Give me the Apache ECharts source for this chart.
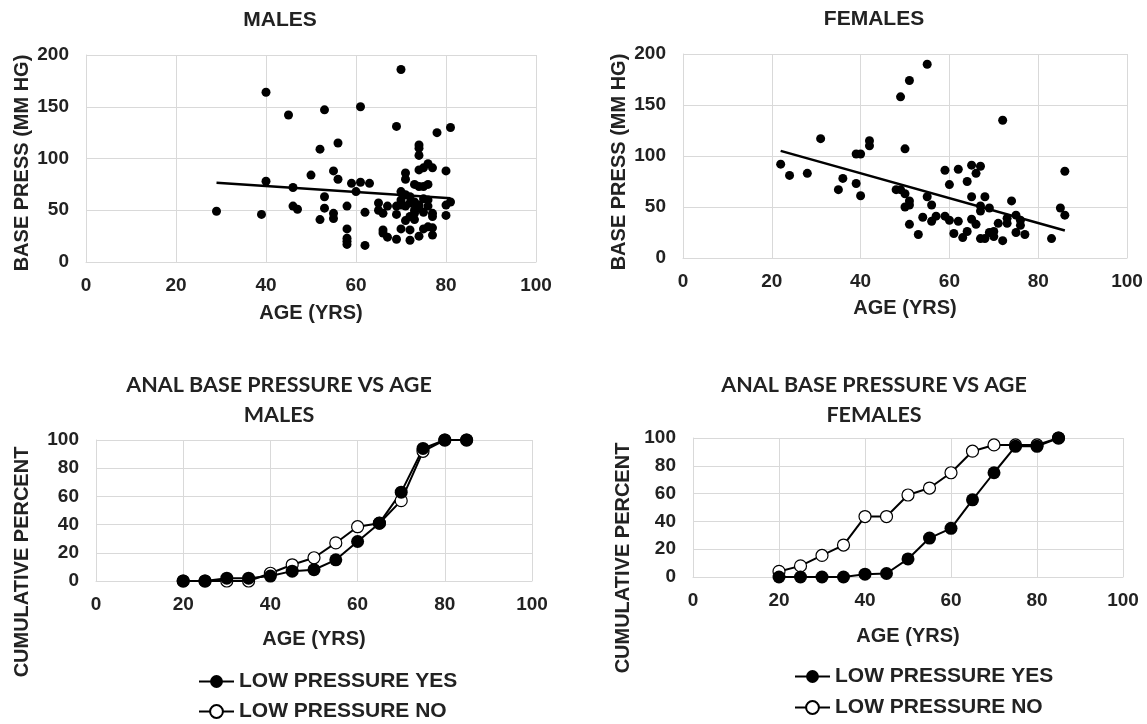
<!DOCTYPE html>
<html lang="en">
<head>
    <meta charset="UTF-8">
    <title>Anal base pressure vs age</title>
    <script src="https://cdn.jsdelivr.net/npm/echarts@6/dist/echarts.min.js"></script>
    <style>
        html, body {margin: 0; padding: 0; background: #fff;}
        #my {width: 1147px; height: 724px;}
    </style>
</head>
<body>
<div id="my"></div>
<script>
    // scatter: males
    var maleAge = [29, 39, 40, 40, 45, 46, 46, 47, 50, 52, 52, 53, 53, 53, 55, 55, 55, 56, 56, 58, 58, 58, 58, 58,
        59, 60, 61, 61, 62, 62, 63, 65, 65, 66, 66, 66, 67, 67, 69, 69, 69, 69, 70, 70, 70, 70, 70, 71, 71, 71, 71,
        72, 72, 72, 72, 72, 73, 73, 73, 73, 74, 74, 74, 74, 74, 74, 74, 74, 75, 75, 75, 75, 75, 76, 76, 76, 76, 76,
        77, 77, 77, 77, 77, 78, 80, 80, 80, 81, 81, 71, 73]
    var malePress = [49, 46, 164, 78, 142, 72, 54, 51, 84, 109, 41, 147, 63, 52, 88, 47, 42, 115, 80, 54, 32, 23,
        20, 17, 76, 68, 150, 77, 48, 16, 76, 57, 50, 47, 31, 28, 24, 54, 54, 46, 22, 131, 186, 68, 60, 32, 55, 86,
        80, 54, 40, 63, 44, 31, 21, 57, 75, 58, 47, 41, 113, 110, 103, 89, 73, 52, 25, 55, 91, 73, 61, 32, 48, 95,
        75, 54, 34, 60, 91, 47, 44, 33, 26, 125, 88, 55, 45, 130, 58, 65, 50]
    var maleTrendAge = [29, 81]
    var maleTrendPress = [76.5, 61.5]

    // scatter: females
    var femaleAge = [22, 24, 28, 31, 35, 36, 39, 39, 40, 40, 42, 42, 48, 49, 49, 50, 50, 50, 51, 51, 51, 51, 53,
        54, 55, 55, 56, 56, 57, 59, 59, 60, 60, 61, 62, 62, 63, 64, 64, 65, 65, 65, 66, 66, 67, 67, 67, 67, 68, 68,
        69, 69, 70, 70, 71, 72, 72, 73, 73, 74, 75, 75, 76, 76, 77, 83, 85, 86, 86]
    var femalePress = [92, 81, 83, 117, 67, 78, 73, 102, 102, 61, 115, 110, 67, 158, 67, 107, 63, 50, 174, 56, 52,
        33, 23, 40, 190, 60, 52, 36, 41, 86, 41, 72, 37, 24, 87, 36, 20, 75, 26, 91, 60, 38, 83, 33, 90, 51, 46, 19,
        60, 19, 49, 25, 26, 21, 34, 135, 17, 39, 34, 56, 42, 25, 37, 32, 23, 19, 49, 85, 42]
    var femaleTrendAge = [22, 86]
    var femaleTrendPress = [105, 27]

    // cumulative percent
    var cumAge = [20, 25, 30, 35, 40, 45, 50, 55, 60, 65, 70, 75, 80, 85]
    var maleYes = [0, 0, 2, 2, 3.5, 7, 8, 15, 28, 41, 63, 94, 100, 100]
    var maleNo = [0, 0, 0, 0, 5.5, 11.5, 16.5, 27, 38.5, 41, 57, 92, 100, 100]
    var femaleYes = [0, 0, 0, 0, 2, 2.5, 13, 28, 35, 55.5, 75, 94, 94, 100]
    var femaleNo = [4, 8, 15.5, 23, 43.5, 43.5, 59, 64, 75, 90.5, 95, 95, 95, 100]

    var yesName = 'LOW PRESSURE YES'
    var noName = 'LOW PRESSURE NO'

    function pairs(xs, ys) {
        var out = []
        for (var i = 0; i < xs.length; i++) {
            out.push([xs[i], ys[i]])
        }
        return out
    }

    var font = 'Liberation Sans, Arial, sans-serif'
    var textColor = '#222'
    var gridColor = '#d9d9d9'

    function xAxisOf(idx, name, gap) {
        return {
            gridIndex: idx, type: 'value', min: 0, max: 100, interval: 20,
            name: name, nameLocation: 'middle', nameGap: gap,
            nameTextStyle: {fontFamily: font, fontWeight: 'bold', fontSize: 20, color: textColor},
            axisLine: {show: true, lineStyle: {color: gridColor}},
            axisTick: {show: false},
            axisLabel: {fontFamily: font, fontWeight: 'bold', fontSize: 19, color: textColor, margin: 14},
            splitLine: {show: true, lineStyle: {color: gridColor}}
        }
    }

    function yAxisOf(idx, max, interval) {
        return {
            gridIndex: idx, type: 'value', min: 0, max: max, interval: interval,
            axisLine: {show: true, lineStyle: {color: gridColor}},
            axisTick: {show: false},
            axisLabel: {fontFamily: font, fontWeight: 'bold', fontSize: 19, color: textColor, margin: 17},
            splitLine: {show: true, lineStyle: {color: gridColor}}
        }
    }

    function yName(text, x, y) {
        return {
            type: 'text', x: x, y: y, rotation: Math.PI / 2,
            style: {
                text: text, fill: textColor, font: 'bold 20px ' + font,
                textAlign: 'center', textVerticalAlign: 'middle'
            }
        }
    }

    function legendOf(name, left, top) {
        return {
            left: left, top: top, itemWidth: 35, itemHeight: 16, padding: 0,
            data: [name], selectedMode: false,
            textStyle: {fontFamily: font, fontWeight: 'bold', fontSize: 21, color: textColor}
        }
    }

    var titleStyle = {fontFamily: font, fontWeight: 'bold', fontSize: 21, color: textColor}
    var title2Style = {fontFamily: 'Lato, sans-serif', fontWeight: 'bold', fontSize: 21.5, color: textColor, lineHeight: 30}

    var option = {
        animation: false,
        backgroundColor: '#fff',
        title: [
            {text: 'MALES', left: 280, top: 10, textAlign: 'center', padding: 0, textStyle: titleStyle},
            {text: 'FEMALES', left: 874, top: 9, textAlign: 'center', padding: 0, textStyle: titleStyle},
            {text: 'ANAL BASE PRESSURE VS AGE\nMALES', left: 279, top: 370, textAlign: 'center', padding: 0, textStyle: title2Style},
            {text: 'ANAL BASE PRESSURE VS AGE\nFEMALES', left: 874, top: 370, textAlign: 'center', padding: 0, textStyle: title2Style}
        ],
        legend: [
            legendOf(yesName, 198, 671),
            legendOf(noName, 198, 701),
            legendOf(yesName, 794, 666),
            legendOf(noName, 794, 697)
        ],
        graphic: [
            yName('BASE PRESS (MM HG)', 22, 163),
            yName('BASE PRESS (MM HG)', 619, 162),
            yName('CUMULATIVE PERCENT', 22, 562),
            yName('CUMULATIVE PERCENT', 623, 558)
        ],
        grid: [
            {left: 86, top: 55, width: 450, height: 207},
            {left: 683, top: 54, width: 444, height: 204},
            {left: 96, top: 440, width: 436, height: 141},
            {left: 693, top: 438, width: 430, height: 139}
        ],
        xAxis: [
            xAxisOf(0, 'AGE (YRS)', 41),
            xAxisOf(1, 'AGE (YRS)', 40),
            xAxisOf(2, 'AGE (YRS)', 48),
            xAxisOf(3, 'AGE (YRS)', 49)
        ],
        yAxis: [
            yAxisOf(0, 200, 50),
            yAxisOf(1, 200, 50),
            yAxisOf(2, 100, 20),
            yAxisOf(3, 100, 20)
        ],
        series: [
            {
                type: 'scatter', xAxisIndex: 0, yAxisIndex: 0, symbolSize: 9,
                itemStyle: {color: '#000', opacity: 1}, data: pairs(maleAge, malePress)
            },
            {
                type: 'line', xAxisIndex: 0, yAxisIndex: 0, showSymbol: false, z: 3,
                lineStyle: {color: '#000', width: 2.5}, data: pairs(maleTrendAge, maleTrendPress)
            },
            {
                type: 'scatter', xAxisIndex: 1, yAxisIndex: 1, symbolSize: 9,
                itemStyle: {color: '#000', opacity: 1}, data: pairs(femaleAge, femalePress)
            },
            {
                type: 'line', xAxisIndex: 1, yAxisIndex: 1, showSymbol: false, z: 3,
                lineStyle: {color: '#000', width: 2.5}, data: pairs(femaleTrendAge, femaleTrendPress)
            },
            {
                name: noName, type: 'line', xAxisIndex: 2, yAxisIndex: 2,
                symbol: 'circle', symbolSize: 12,
                itemStyle: {color: '#fff', borderColor: '#000', borderWidth: 1.2},
                lineStyle: {color: '#000', width: 2}, data: pairs(cumAge, maleNo)
            },
            {
                name: yesName, type: 'line', xAxisIndex: 2, yAxisIndex: 2,
                symbol: 'circle', symbolSize: 13,
                itemStyle: {color: '#000'},
                lineStyle: {color: '#000', width: 2}, data: pairs(cumAge, maleYes)
            },
            {
                name: noName, type: 'line', xAxisIndex: 3, yAxisIndex: 3,
                symbol: 'circle', symbolSize: 12,
                itemStyle: {color: '#fff', borderColor: '#000', borderWidth: 1.2},
                lineStyle: {color: '#000', width: 2}, data: pairs(cumAge, femaleNo)
            },
            {
                name: yesName, type: 'line', xAxisIndex: 3, yAxisIndex: 3,
                symbol: 'circle', symbolSize: 13,
                itemStyle: {color: '#000'},
                lineStyle: {color: '#000', width: 2}, data: pairs(cumAge, femaleYes)
            }
        ]
    }

    var mCharts = echarts.init(document.getElementById('my'))
    mCharts.setOption(option)
    window.onresize = mCharts.resize
</script>
</body>
</html>
